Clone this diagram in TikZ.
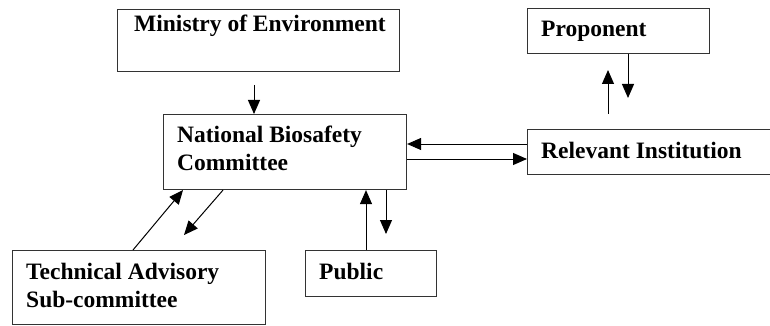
\documentclass[tikz,border=0pt]{standalone}
\usepackage{fontspec}
\setmainfont{Liberation Serif}
\usetikzlibrary{arrows.meta,calc}
\begin{document}
\begin{tikzpicture}[x=1pt,y=-1pt,
  box/.style={draw=black!80,line width=1.1pt,inner sep=0pt,anchor=north west},
  lbl/.style={inner sep=0pt,anchor=base west,font=\fontsize{23.5}{28}\selectfont\bfseries,align=left},
  arr/.style={line width=1pt,-{Triangle[length=14pt,width=12pt]}}]
\useasboundingbox (0,0) rectangle (770,326);
% boxes
\node[box,minimum width=282pt,minimum height=62pt] (min) at (117,9) {};
\node[box,minimum width=243pt,minimum height=75pt] (nbc) at (163,114) {};
\node[box,minimum width=182pt,minimum height=45pt] (pro) at (527,8) {};
\node[box,minimum width=260pt,minimum height=45pt] (rel) at (527,129) {};
\node[box,minimum width=253pt,minimum height=74pt] (tas) at (12,250) {};
\node[box,minimum width=131pt,minimum height=46pt] (pub) at (305,250) {};
% labels (base anchor = baseline of last line)
\node[lbl] (tmin) at (134,32) {Ministry of Environment};
\node[lbl] (tnbc) at (177,170) {National Biosafety\\Committee};
\node[lbl] (tpro) at (541,37) {Proponent};
\node[lbl] (trel) at (541,158) {Relevant Institution};
\node[lbl] (ttas) at (26,307) {Technical Advisory\\Sub-committee};
\node[lbl] (tpub) at (319,279) {Public};
% free ends
\coordinate (a1) at (254,85);
\coordinate (a2) at (628,98);
\coordinate (a3s) at (608,114);
\coordinate (a3e) at (608,70);
\coordinate (h1) at (0,144);
\coordinate (h2) at (0,159);
\coordinate (d1) at (133,0);
\coordinate (d2) at (183,0);
\coordinate (d3) at (223,0);
\coordinate (d4) at (184,235);
\coordinate (p1) at (366,0);
\coordinate (p2) at (386,234);
% connectors
\draw[arr] (a1) -- (a1 |- nbc.north);
\draw[arr] (a2 |- pro.south) -- (a2);
\draw[arr] (a3s) -- (a3e);
\draw[arr] (h1 -| rel.west) -- (h1 -| nbc.east);
\draw[arr] (h2 -| nbc.east) -- (h2 -| rel.west);
\draw[arr] (d1 |- tas.north) -- (d2 |- nbc.south);
\draw[arr] (d3 |- nbc.south) -- (d4);
\draw[arr] (p1 |- pub.north) -- (p1 |- nbc.south);
\draw[arr] (p2 |- nbc.south) -- (p2);
\end{tikzpicture}
\end{document}
